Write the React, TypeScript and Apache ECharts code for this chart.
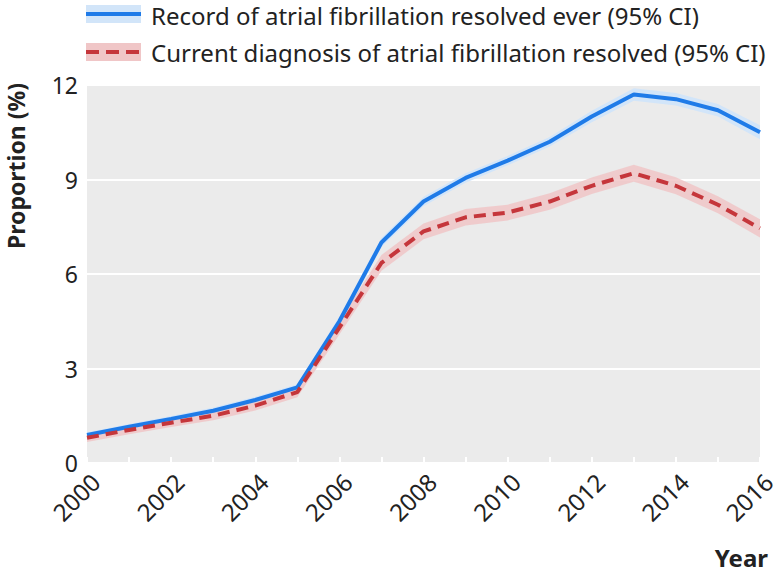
import React, { useEffect, useRef } from "react";
import * as echarts from "echarts";

const years = ["2000","2001","2002","2003","2004","2005","2006","2007","2008","2009","2010","2011","2012","2013","2014","2015","2016"];
const everValues = [0.89, 1.15, 1.4, 1.66, 2.0, 2.4, 4.5, 7.0, 8.3, 9.05, 9.6, 10.2, 11.0, 11.7, 11.55, 11.2, 10.5];
const everLower = [0.8, 1.06, 1.31, 1.56, 1.9, 2.3, 4.35, 6.85, 8.15, 8.9, 9.45, 10.05, 10.82, 11.5, 11.35, 11.0, 10.28];
const everUpper = [0.98, 1.24, 1.49, 1.76, 2.1, 2.5, 4.65, 7.15, 8.45, 9.2, 9.75, 10.35, 11.18, 11.9, 11.75, 11.4, 10.72];
const currentValues = [0.8, 1.05, 1.28, 1.5, 1.82, 2.25, 4.3, 6.35, 7.35, 7.8, 7.95, 8.3, 8.8, 9.2, 8.8, 8.2, 7.45];
const currentLower = [0.67, 0.91, 1.14, 1.36, 1.67, 2.09, 4.08, 6.1, 7.1, 7.54, 7.7, 8.04, 8.54, 8.93, 8.53, 7.93, 7.16];
const currentUpper = [0.93, 1.19, 1.42, 1.64, 1.97, 2.41, 4.52, 6.6, 7.6, 8.06, 8.2, 8.56, 9.06, 9.47, 9.07, 8.47, 7.74];
const yTicks = [0, 3, 6, 9, 12];
const legendLabels = [
  "Record of atrial fibrillation resolved ever (95% CI)",
  "Current diagnosis of atrial fibrillation resolved (95% CI)",
];

const BLUE = "#1f7be8";
const BLUE_BAND = "#d2e5f9";
const RED = "#c5363b";
const RED_BAND = "#f0c6c7";
const FONT = "Noto Sans";
const TXT = "#222222";

export default function App() {
  const ref = useRef<HTMLDivElement>(null);
  useEffect(() => {
    const chart = echarts.init(ref.current!, null, { renderer: "svg" });
    const diff = (u: number[], l: number[]) => u.map((v, i) => +(v - l[i]).toFixed(3));
    chart.setOption({
      animation: false,
      textStyle: { fontFamily: FONT },
      grid: { left: 87, right: 20, top: 85, bottom: 111, containLabel: false },
      graphic: [
        { type: "rect", shape: { x: 86, y: 5, width: 55, height: 18 }, style: { fill: BLUE_BAND } },
        { type: "line", shape: { x1: 86, y1: 14, x2: 141, y2: 14 }, style: { stroke: BLUE, lineWidth: 4 } },
        { type: "text", x: 151, y: 15, style: { text: legendLabels[0], fontFamily: FONT, fontSize: 24, fill: TXT, verticalAlign: "middle" } },
        { type: "rect", shape: { x: 86, y: 43, width: 55, height: 18 }, style: { fill: RED_BAND } },
        { type: "line", shape: { x1: 86, y1: 52, x2: 141, y2: 52 }, style: { stroke: RED, lineWidth: 4, lineDash: [13, 7] } },
        { type: "text", x: 151, y: 52, style: { text: legendLabels[1], fontFamily: FONT, fontSize: 24, fill: TXT, verticalAlign: "middle" } },
        { type: "text", x: 768, y: 557, style: { text: "Year", fontFamily: FONT, fontSize: 24, fontWeight: "bold", fill: TXT, align: "right", verticalAlign: "middle" } },
        { type: "text", x: 16, y: 166, rotation: Math.PI / 2, style: { text: "Proportion (%)", fontFamily: FONT, fontSize: 23, fontWeight: "bold", fill: TXT, align: "center", verticalAlign: "middle" } },
      ],
      xAxis: {
        type: "category",
        data: years,
        boundaryGap: false,
        axisLine: { show: false },
        axisTick: { show: true, inside: true, length: 6, interval: 0, lineStyle: { color: "#ffffff", width: 2 } },
        axisLabel: { interval: 1, rotate: 45, fontSize: 24, color: TXT, margin: 6, verticalAlign: "top", fontFamily: FONT },
        splitLine: { show: false },
      },
      yAxis: {
        type: "value",
        min: 0,
        max: 12,
        interval: 3,
        axisLine: { show: false },
        axisTick: { show: false },
        axisLabel: { fontSize: 23, color: TXT, margin: 9, fontFamily: FONT, formatter: (v: number) => (yTicks.includes(v) ? String(v) : "") },
        splitLine: { lineStyle: { color: "#ffffff", width: 2 } },
        splitArea: { show: true, areaStyle: { color: ["#ebebeb", "#ebebeb"] } },
      },
      series: [
        { type: "line", data: everLower, stack: "ever", symbol: "none", lineStyle: { opacity: 0 }, silent: true },
        { type: "line", data: diff(everUpper, everLower), stack: "ever", symbol: "none", lineStyle: { opacity: 0 }, areaStyle: { color: BLUE_BAND, opacity: 1 }, silent: true },
        { type: "line", data: currentLower, stack: "cur", symbol: "none", lineStyle: { opacity: 0 }, silent: true },
        { type: "line", data: diff(currentUpper, currentLower), stack: "cur", symbol: "none", lineStyle: { opacity: 0 }, areaStyle: { color: RED_BAND, opacity: 0.85 }, silent: true },
        { type: "line", name: legendLabels[0], data: everValues, symbol: "none", lineStyle: { color: BLUE, width: 4 } },
        { type: "line", name: legendLabels[1], data: currentValues, symbol: "none", lineStyle: { color: RED, width: 4, type: [12, 7] } },
      ],
    });
    return () => chart.dispose();
  }, []);
  return <div ref={ref} style={{ position: "absolute", left: 0, top: 0, width: 780, height: 574 }} />;
}
